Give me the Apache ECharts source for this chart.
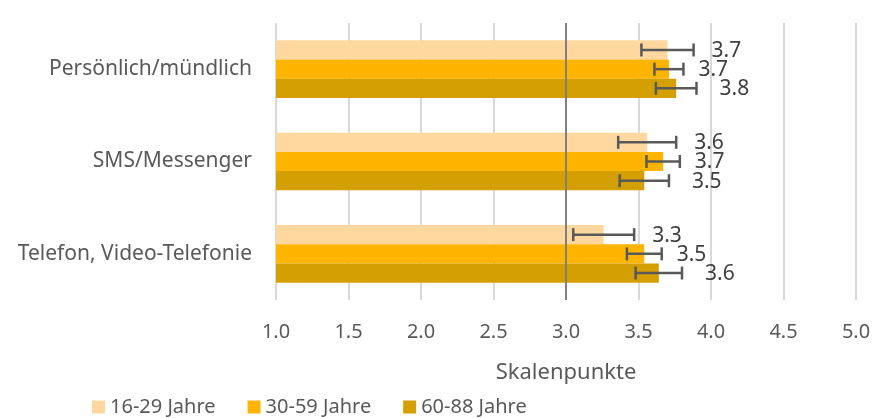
<!DOCTYPE html>
<html>
<head>
<meta charset="utf-8">
<script src="https://cdn.jsdelivr.net/npm/echarts@6/dist/echarts.min.js"></script>
<style>
  html, body { margin: 0; padding: 0; background: #fff; }
  #chart { width: 885px; height: 418px; }
</style>
</head>
<body>
<div id="chart"></div>
<script>
// Kategorien (von oben nach unten)
var categories = ['Persönlich/mündlich', 'SMS/Messenger', 'Telefon, Video-Telefonie'];
var seriesNames = ['16-29 Jahre', '30-59 Jahre', '60-88 Jahre'];

// Mittelwerte je Altersgruppe
var values1629 = [3.70, 3.56, 3.26];
var values3059 = [3.71, 3.67, 3.54];
var values6088 = [3.76, 3.54, 3.64];

// Fehlerbalken (halbe Breite)
var err1629 = [0.18, 0.20, 0.21];
var err3059 = [0.10, 0.115, 0.12];
var err6088 = [0.14, 0.17, 0.16];

var xTicks = [1.0, 1.5, 2.0, 2.5, 3.0, 3.5, 4.0, 4.5, 5.0];
var refValue = 3.0;

var colors = ['#FFD8A0', '#FFB500', '#D49F00'];
var labelOffsets = [18, 15, 23];
var fontName = 'Noto Sans';
var barCatGap = 0.376;

var allValues = [values1629, values3059, values6088];
var allErrors = [err1629, err3059, err6088];

var chart = echarts.init(document.getElementById('chart'));

// Balken
var series = [];
seriesNames.forEach(function (name, i) {
    series.push({
        name: name,
        type: 'bar',
        data: allValues[i],
        itemStyle: { color: colors[i] },
        barGap: 0,
        barCategoryGap: (barCatGap * 100) + '%',
        silent: true,
        z: 2
    });
});

// Referenzlinie bei 3.0
series[0].markLine = {
    silent: true,
    symbol: 'none',
    label: { show: false },
    lineStyle: { color: '#808080', width: 2, type: 'solid' },
    data: [{ xAxis: refValue }]
};

// Fehlerbalken + Werte
seriesNames.forEach(function (name, i) {
    var data = allValues[i].map(function (v, k) {
        return [k, v, allErrors[i][k]];
    });
    series.push({
        name: name + ' err',
        type: 'custom',
        silent: true,
        z: 5,
        data: data,
        encode: { x: 1, y: 0 },
        renderItem: function (params, api) {
            var cat = api.value(0);
            var v = api.value(1);
            var e = api.value(2);
            var band = api.size([0, 1])[1];
            var barW = band * (1 - barCatGap) / 3;
            var center = api.coord([v, cat]);
            var y = center[1] + (i - 1) * barW;
            var lo = api.coord([v - e, cat])[0];
            var hi = api.coord([v + e, cat])[0];
            var cap = 6.5;
            var stroke = { stroke: '#595959', lineWidth: 2.5 };
            return {
                type: 'group',
                children: [
                    { type: 'line', shape: { x1: lo, y1: y, x2: hi, y2: y }, style: stroke },
                    { type: 'line', shape: { x1: lo, y1: y - cap, x2: lo, y2: y + cap }, style: stroke },
                    { type: 'line', shape: { x1: hi, y1: y - cap, x2: hi, y2: y + cap }, style: stroke },
                    {
                        type: 'text',
                        style: {
                            x: hi + labelOffsets[i],
                            y: y + 1,
                            text: v.toFixed(1),
                            fill: '#404040',
                            font: '21px "' + fontName + '"',
                            verticalAlign: 'middle',
                            align: 'left'
                        }
                    }
                ]
            };
        }
    });
});

var option = {
    backgroundColor: '#fff',
    animation: false,
    textStyle: { fontFamily: fontName },
    legend: {
        data: seriesNames,
        left: 87,
        top: 397,
        padding: [0, 5],
        icon: 'rect',
        itemWidth: 13,
        itemHeight: 13,
        itemGap: 32,
        textStyle: { color: '#595959', fontSize: 20, fontFamily: fontName }
    },
    grid: {
        left: 276,
        right: 29,
        top: 23,
        bottom: 118
    },
    xAxis: {
        type: 'value',
        min: xTicks[0],
        max: xTicks[xTicks.length - 1],
        interval: 0.5,
        name: 'Skalenpunkte',
        nameLocation: 'middle',
        nameGap: 62,
        nameTextStyle: { color: '#595959', fontSize: 22, fontFamily: fontName },
        axisLine: { show: false },
        axisTick: { show: false },
        axisLabel: {
            color: '#595959',
            fontSize: 20,
            margin: 22,
            formatter: function (v) { return v.toFixed(1); }
        },
        splitLine: { show: true, lineStyle: { color: '#D9D9D9', width: 2 } }
    },
    yAxis: {
        type: 'category',
        data: categories,
        inverse: true,
        axisLine: { show: false },
        axisTick: { show: false },
        axisLabel: { color: '#595959', fontSize: 21, margin: 24 },
        splitLine: { show: false }
    },
    series: series
};

chart.setOption(option);
</script>
</body>
</html>
